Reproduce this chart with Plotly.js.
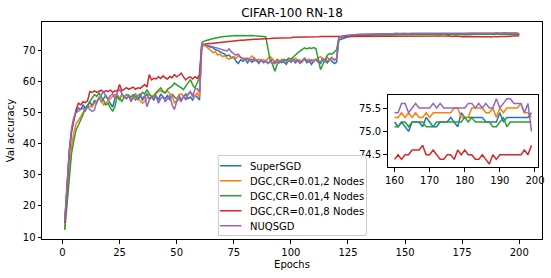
<!DOCTYPE html>
<html>
<head>
<meta charset="utf-8">
<script src="https://cdn.plot.ly/plotly-3.0.1.min.js"></script>
<style>
html,body{margin:0;padding:0;background:#fff;}
#chart{width:551px;height:278px;}
</style>
</head>
<body>
<div id="chart"></div>
<script>
const seriesNames = ["SuperSGD", "DGC,CR=0.01,2 Nodes", "DGC,CR=0.01,4 Nodes", "DGC,CR=0.01,8 Nodes", "NUQSGD"];
const seriesColors = ["#1f77b4", "#ff7f0e", "#2ca02c", "#d62728", "#9467bd"];

const superSGD = [
14.5,27,37,44,48,50.5,51.5,51,52.5,51.5,
52,53.5,52,54,53,55,53.5,54.5,55.5,54,
53,51.8,54.5,55.5,54,56,55,54.5,55.5,54,
55,56,54.5,55.5,54,55,56,54.5,55,54,
55.5,54,56,55,54.5,55.5,54,56,55,54.5,
55.5,54,55,56,54.5,55,54,55.5,55,54,
71.5,71.8,71.5,71.2,71,70.8,70.2,70,69.5,69.2,
68.8,68.2,68.5,67.5,67.8,66.5,65.8,67,66.5,67.2,
66,67,66.2,67.5,66.5,65.8,67,66.2,66.8,65.8,
66.5,67.2,65.8,66.5,66,67,66.2,65.5,66.8,66.2,
67,66,66.8,65.8,66.5,67.2,66,66.8,65.5,66.5,
67,66.2,65.8,67,66.5,66,67.2,66.5,65.8,66.2,
73.3,73.6,73.9,74.2,74.4,74.5,74.6,74.7,74.8,74.8,
74.9,74.9,75,74.9,75,75,75.1,75,75.1,75.1,
75,75.1,75.2,75.1,75.1,75.2,75.1,75.2,75.2,75.1,
75.2,75.2,75.1,75.2,75.2,75.3,75.2,75.2,75.2,75.3,
75.2,75.1,75.2,75.1,75.0,75.2,75.2,75.2,75.1,75.3,
75.2,75.1,75.1,75.2,75.2,75.2,75.3,75.2,75.1,75.4,
75.3,75.3,75.3,75.3,75.3,75.3,75.2,75.2,75.2,75.2,
75.4,75.2,75.3,75.3,75.3,75.3,75.3,75.3,75.3,75.4];

const dgc2 = [
12.5,22,32,39.5,43.5,46.5,47.5,49,50,51.2,
51.5,52,51.8,53,53.5,54.7,54,52.5,53,53.6,
54.5,55.2,55.8,55.8,54.7,55.5,55.2,54.7,55.2,54.1,
55,55.8,54.5,53.6,53,53.6,54.7,55.8,55.2,55.5,
56,56.8,57,56.5,56.3,57,56,55.5,53,54,
55.8,56,55.2,54.5,55.8,56.3,56,55.2,56.3,55,
71.5,71.6,71.2,70.5,70,69.3,69.5,68.5,68.8,68,
68.3,67.5,67.2,67.8,68,67.5,68.2,67.8,67.2,67.5,
67,67.5,68.2,67.5,66.8,67.2,66.5,67,66.5,67.5,
68,67,66.5,67.2,66.8,66.2,67.2,66.8,66.5,67,
66.5,67.5,66.8,67,66.2,67.5,66.8,67.2,66.5,67,
66.8,67.5,68,67.2,66.5,67.8,66.8,67.5,67,67.2,
74,74.3,74.5,74.6,74.8,74.8,74.9,75,75,75.1,
75.1,75.1,75.2,75.1,75.2,75.2,75.2,75.3,75.2,75.3,
75.3,75.2,75.3,75.3,75.3,75.4,75.3,75.3,75.4,75.3,
75.3,75.4,75.3,75.4,75.4,75.3,75.4,75.4,75.3,75.4,
75.3,75.3,75.4,75.3,75.4,75.3,75.4,75.3,75.3,75.4,
75.3,75.4,75.4,75.4,75.4,75.4,75.4,75.5,75.5,75.3,
75.3,75.3,75.5,75.5,75.5,75.5,75.4,75.4,75.5,75.3,
75.5,75.4,75.5,75.5,75.5,75.5,75.6,75.4,75.4,75.3];

const dgc4 = [
12.3,21,30,37,41,44.5,46,47.5,49.3,51.4,
52.5,53.5,55,55.8,55.2,56.3,55,54,52.5,53,
51.5,50.4,52,55.2,54.5,53.6,55,55.8,55.5,55,
55.8,55,54.2,55.2,56.5,56,57.4,56,55.2,55.2,
56.5,57.2,57.9,56.8,56.3,57.5,57.9,58.5,59.5,58.8,
58.4,58,57.4,58.5,59.5,60.6,59,57.9,59.5,61.2,
72.4,73,73.2,73.5,73.6,73.8,74,74.2,74.3,74.4,
74.5,74.6,74.7,74.6,74.7,74.8,74.7,74.8,74.8,74.7,
74.8,74.7,74.8,74.7,74.6,74.7,74.6,74.5,74.4,70.5,
66.5,65.5,63.3,65.5,66.5,66,67,66.8,67.5,67.2,
68,68.5,69.2,69.8,70.3,70.8,70.5,70.8,70.6,70.9,
70.5,67.5,63.8,65.5,67,68.5,69,68.8,69.5,70.2,
74,74.3,74.5,74.6,74.7,74.8,74.8,74.9,74.9,75,
75,75,75.1,75,75.1,75.1,75.1,75.1,75.2,75.1,
75.1,75.2,75.1,75.2,75.1,75.2,75.2,75.1,75.2,75.2,
75.1,75.2,75.2,75.2,75.1,75.2,75.2,75.2,75.1,75.2,
75.1,75.1,75.2,75.2,75.1,75.2,75.2,75.2,75.2,75.1,
75.1,75.1,75.2,75.2,75.2,75.2,75.2,75.2,75.2,75.2,
75.3,75.2,75.3,75.2,75.2,75.2,75.2,75.2,75.1,75.1,
75.2,75.3,75.1,75.2,75.2,75.2,75.2,75.2,75.2,75.2];

const dgc8 = [
14.5,26,37.5,44,47.7,51,53,52.5,53.5,53.2,
53.8,56.8,56.5,57,56.5,56.8,57.2,56.6,57,56.8,
57.2,56.5,57,56.8,59,57,57.5,58,57.5,57.8,
58.2,57.5,58,57.8,58.5,59,58.2,62.2,60.5,61,
60.8,61.5,61,61.8,61.2,60.8,61.6,61.2,62.2,61.5,
62,62.7,61.5,60.5,61.2,61.5,60.8,61.5,61,62.2,
71.8,72,72.1,72.2,72.2,72.3,72.4,72.5,72.6,72.7,
72.8,72.9,72.9,73,73.1,73.1,73.2,73.3,73.3,73.4,
73.4,73.5,73.5,73.6,73.6,73.6,73.7,73.7,73.8,73.8,
73.8,73.9,73.9,74,74,74,74.1,74,74.1,74.1,
74.2,74.2,74.2,74.3,74.2,74.3,74.3,74.4,74.3,74.4,
74.4,74.4,74.5,74.4,74.5,74.5,74.5,74.6,74.5,74.6,
74.6,74.5,74.6,74.5,74.6,74.5,74.5,74.6,74.5,74.4,
74.5,74.6,74.5,74.4,74.5,74.5,74.6,74.5,74.4,74.5,
74.5,74.4,74.5,74.6,74.5,74.5,74.4,74.5,74.5,74.6,
74.5,74.4,74.5,74.5,74.6,74.5,74.4,74.5,74.5,74.4,
74.4,74.5,74.4,74.5,74.5,74.6,74.6,74.6,74.7,74.5,
74.5,74.6,74.5,74.4,74.4,74.5,74.5,74.4,74.6,74.5,
74.6,74.5,74.5,74.4,74.4,74.5,74.4,74.3,74.5,74.4,
74.5,74.5,74.5,74.5,74.5,74.5,74.5,74.6,74.5,74.7];

const nuqsgd = [
15,28.5,38,45,48.5,50,50.5,51,51.5,50.5,
52,51,50.4,50.8,53.5,54.5,55.5,56.8,55,54.5,
55.5,56,54.5,56.5,57.4,56,55,54.5,55.5,53.5,
55,54,55.5,56,54.5,55.5,51.9,54,55,54.5,
55.5,53,54.5,55.2,53.5,54.5,55.5,52.5,51,53.5,
54.5,53.5,55.5,54,56,56.8,55,57.5,57.7,56.5,
72,72,71.8,71.6,71.5,71.3,71,70.8,70.5,70.2,
70,69.8,70.5,69.5,69,68.5,68.8,67.8,67.5,67.2,
67.5,66.8,67.2,66.5,67,66.2,66.8,66,66.5,65.8,
66.5,66,65.8,66.8,66.2,67,66.5,66,66.8,66.5,
67.2,66.5,67,66.2,66.8,67.5,66.8,66.2,67,66.5,
67.2,66.8,66.2,67.5,66.8,66.5,67.2,67.8,66.8,67.5,
74.2,74.5,74.7,74.8,74.9,75,75,75.1,75.1,75.2,
75.2,75.2,75.3,75.2,75.3,75.3,75.3,75.4,75.3,75.4,
75.4,75.4,75.3,75.4,75.4,75.5,75.4,75.4,75.5,75.4,
75.5,75.4,75.5,75.5,75.4,75.5,75.5,75.5,75.4,75.5,
75.4,75.4,75.6,75.6,75.4,75.5,75.6,75.5,75.5,75.5,
75.5,75.6,75.5,75.6,75.5,75.5,75.5,75.5,75.5,75.5,
75.5,75.6,75.6,75.5,75.6,75.5,75.6,75.5,75.5,75.7,
75.5,75.6,75.7,75.7,75.6,75.6,75.6,75.4,75.6,75.0];

const allSeries = [superSGD, dgc2, dgc4, dgc8, nuqsgd];
const epochs = superSGD.map((_, i) => i + 1);
const insetStart = 160, insetEnd = 200;
const insetEpochs = epochs.slice(insetStart - 1, insetEnd - 1);   // 160..199

const mainXTicks = [0, 25, 50, 75, 100, 125, 150, 175, 200];
const mainYTicks = [10, 20, 30, 40, 50, 60, 70];
const insetXTicks = [160, 170, 180, 190, 200];
const insetYTicks = [74.5, 75.0, 75.5];

const FONT = "DejaVu Sans, sans-serif";
const traces = [];
allSeries.forEach((s, k) => {
  traces.push({
    x: epochs, y: s, type: "scatter", mode: "lines", name: seriesNames[k],
    line: {color: seriesColors[k], width: 1.5}, xaxis: "x", yaxis: "y"
  });
});
allSeries.forEach((s, k) => {
  traces.push({
    x: insetEpochs, y: s.slice(insetStart, insetEnd), type: "scatter", mode: "lines",
    name: seriesNames[k], showlegend: false,
    line: {color: seriesColors[k], width: 1.5}, xaxis: "x2", yaxis: "y2"
  });
});

const axCommon = {
  showgrid: false, zeroline: false, showline: true, mirror: true,
  linecolor: "#000", linewidth: 1, ticks: "outside", ticklen: 3.5, tickwidth: 1,
  tickcolor: "#000", tickfont: {family: FONT, size: 10, color: "#000"}
};

const layout = {
  width: 551, height: 278,
  margin: {l: 42, r: 9, t: 22, b: 39, pad: 0},
  paper_bgcolor: "#fff", plot_bgcolor: "#fff",
  font: {family: FONT, size: 10, color: "#000"},
  title: {text: "CIFAR-100 RN-18", font: {family: FONT, size: 12, color: "#000"},
          x: 0.5, xref: "paper", xanchor: "center", y: 0.955, yref: "container", yanchor: "middle"},
  xaxis: Object.assign({}, axCommon, {
    domain: [0, 1], range: [-8.95, 209.95], tickmode: "array", tickvals: mainXTicks,
    title: {text: "Epochs", font: {family: FONT, size: 10, color: "#000"}, standoff: 4}
  }),
  yaxis: Object.assign({}, axCommon, {
    domain: [0, 1], range: [9.36, 79.13], tickmode: "array", tickvals: mainYTicks,
    title: {text: "Val accuracy", font: {family: FONT, size: 10, color: "#000"}, standoff: 6}
  }),
  xaxis2: Object.assign({}, axCommon, {
    domain: [0.6914, 0.9926], anchor: "y2", range: [158.05, 200.95],
    tickmode: "array", tickvals: insetXTicks
  }),
  yaxis2: Object.assign({}, axCommon, {
    domain: [0.3304, 0.6636], anchor: "x2", range: [74.23, 75.78],
    tickmode: "array", tickvals: insetYTicks, tickformat: ".1f"
  }),
  showlegend: true,
  legend: {
    x: 0.351, y: 0.387, xanchor: "left", yanchor: "top", xref: "paper", yref: "paper",
    bgcolor: "rgba(255,255,255,0.8)", bordercolor: "#cccccc", borderwidth: 1,
    font: {family: FONT, size: 10, color: "#000"}, itemwidth: 30, tracegroupgap: 0
  }
};

// compact the legend rows to the reference's matplotlib-style spacing
function compactLegend(gd) {
  const legend = gd.querySelector("g.legend");
  if (!legend) return;
  const rowH = 15, firstY = 10.7;
  const items = legend.querySelectorAll("g.traces");
  items.forEach((g, i) => {
    g.setAttribute("transform", "translate(1," + (firstY + i * rowH) + ")");
    g.querySelectorAll("g.legendlines path").forEach(p => p.setAttribute("d", "M1.5,0h21.5"));
    const t = g.querySelector("text.legendtext");
    if (t) {
      t.setAttribute("x", 31.5);
      t.querySelectorAll("tspan").forEach(ts => { if (ts.hasAttribute("x")) ts.setAttribute("x", 31.5); });
    }
  });
  const bg = legend.querySelector("rect.bg");
  if (bg) {
    bg.setAttribute("width", 148);
    bg.setAttribute("height", firstY + (items.length - 1) * rowH + 9.5);
    bg.setAttribute("rx", 2); bg.setAttribute("ry", 2);
  }
}

Plotly.newPlot("chart", traces, layout, {displayModeBar: false, staticPlot: true})
  .then(gd => compactLegend(gd));
</script>
</body>
</html>
